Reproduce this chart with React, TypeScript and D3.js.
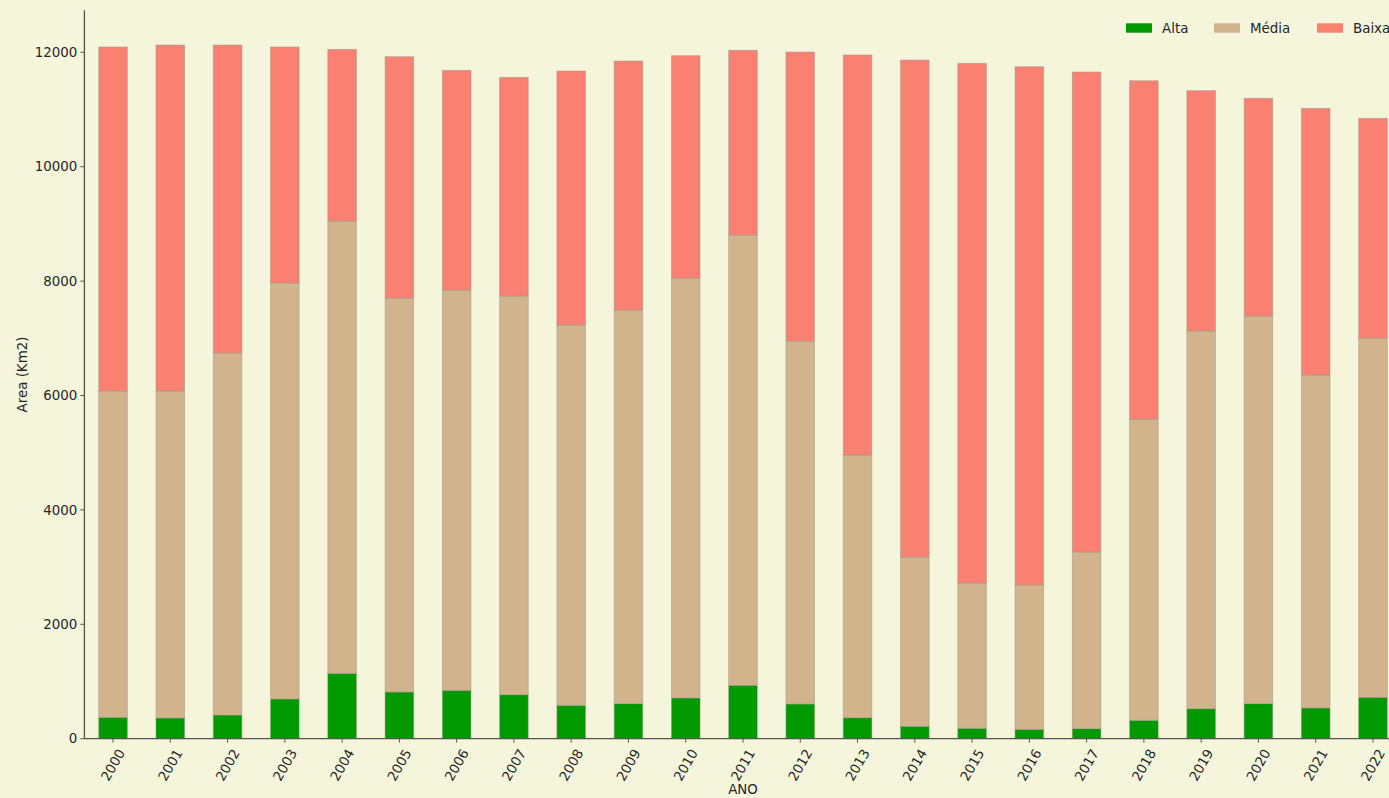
import React from "react";
import * as d3 from "d3";

const years = ["2000","2001","2002","2003","2004","2005","2006","2007","2008","2009","2010","2011","2012","2013","2014","2015","2016","2017","2018","2019","2020","2021","2022"];
const alta = [374,362,414,694,1143,816,846,769,584,612,712,934,607,367,217,182,164,175,322,524,612,537,724];
const media = [5705,5717,6329,7273,7908,6889,6998,6970,6648,6883,7342,7872,6346,4593,2960,2540,2523,3089,5267,6604,6778,5821,6281];
const baixa = [6014,6049,5385,4126,3001,4218,3841,3824,4441,4353,3887,3229,5052,6993,8688,9086,9061,8392,5914,4201,3806,4663,3841];
const yTicks = [0,2000,4000,6000,8000,10000,12000];
const seriesNames = ["Alta","Média","Baixa"];
const seriesColors = ["#009900","#d2b48c","#fa8072"];

const W = 1389, H = 798;
const left = 84.4, right = 1401.6, top = 10.3, bottom = 738.7;
const font = "DejaVu Sans, sans-serif";
const fs = 13.4;

export default function App() {
  const rows = years.map((y, i) => ({ year: y, Alta: alta[i], "Média": media[i], Baixa: baixa[i] }));
  const stack = d3.stack<any>().keys(seriesNames)(rows);
  const totals = rows.map(r => r.Alta + r["Média"] + r.Baixa);
  const ymax = (d3.max(totals) as number) * 1.05;
  const x = d3.scaleBand().domain(years).range([left, right]).paddingInner(0.5).paddingOuter(0.25);
  const y = d3.scaleLinear().domain([0, ymax]).range([bottom, top]);
  const bw = x.bandwidth();
  const legendX = [1126, 1214, 1317];

  return (
    <svg width={W} height={H} style={{ position: "fixed", left: 0, top: 0, background: "#f5f5dc" }} fontFamily={font}>
      <rect x={0} y={0} width={W} height={H} fill="#f5f5dc" />
      {stack.map((s, si) => (
        <g key={si}>
          {s.map((d, i) => (
            <rect key={i} x={x(years[i])} y={y(d[1])} width={bw} height={y(d[0]) - y(d[1])}
              fill={seriesColors[si]} stroke="#9a9a8a" strokeOpacity={0.6} strokeWidth={0.8} />
          ))}
        </g>
      ))}
      <line x1={left} x2={left} y1={top} y2={bottom} stroke="#555550" strokeWidth={1.3} />
      <line x1={left} x2={right} y1={bottom} y2={bottom} stroke="#555550" strokeWidth={1.3} />
      {yTicks.map(t => (
        <g key={t}>
          <line x1={left - 4} x2={left} y1={y(t)} y2={y(t)} stroke="#555550" strokeWidth={1} />
          <text x={left - 7} y={y(t)} dy="0.35em" textAnchor="end" fontSize={fs} fill="#262626">{t}</text>
        </g>
      ))}
      {years.map(yr => {
        const cx = (x(yr) as number) + bw / 2;
        return (
          <g key={yr}>
            <line x1={cx} x2={cx} y1={bottom} y2={bottom + 4} stroke="#555550" strokeWidth={1} />
            <text transform={`translate(${cx},${765}) rotate(-60)`} textAnchor="middle" dy="0.35em" fontSize={fs} fill="#262626">{yr}</text>
          </g>
        );
      })}
      <text x={(left + right) / 2} y={794} textAnchor="middle" fontSize={fs} fill="#262626">ANO</text>
      <text transform={`translate(22,${(top + bottom) / 2}) rotate(-90)`} textAnchor="middle" dy="0.35em" fontSize={fs} fill="#262626">Area (Km2)</text>
      {seriesNames.map((n, i) => (
        <g key={n}>
          <rect x={legendX[i]} y={23.3} width={26} height={9.4} fill={seriesColors[i]} />
          <text x={legendX[i] + 36} y={28} dy="0.35em" fontSize={fs} fill="#262626">{n}</text>
        </g>
      ))}
    </svg>
  );
}
